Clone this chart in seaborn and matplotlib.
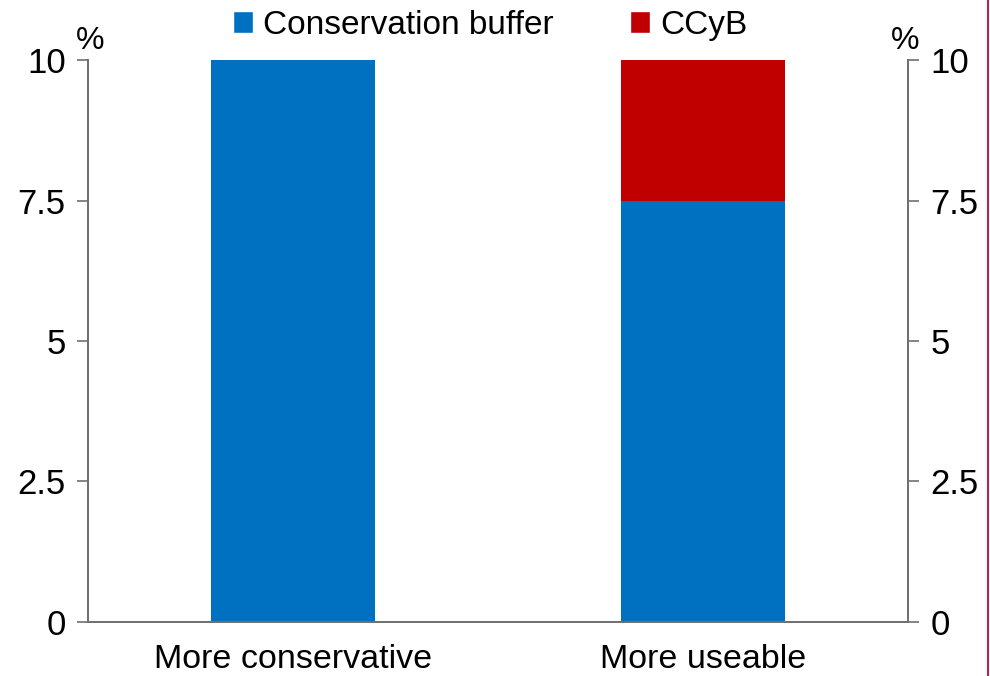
import matplotlib
matplotlib.use("Agg")
import matplotlib.pyplot as plt
import seaborn as sns
from matplotlib.lines import Line2D
from matplotlib.patches import Patch

# ---------------------------------------------
# Data
# ---------------------------------------------
categories = ["More conservative", "More useable"]
conservation_buffer = [10.0, 7.5]
ccyb = [0.0, 2.5]
yticks = [0, 2.5, 5, 7.5, 10]
ytick_labels = ["0", "2.5", "5", "7.5", "10"]

blue = "#0070C0"
red = "#C00000"
axis_col = "#707070"

sns.set_style("white")
plt.rcParams["font.family"] = ["Liberation Sans", "DejaVu Sans"]
plt.rcParams["text.color"] = "black"
plt.rcParams["xtick.labelcolor"] = "black"
plt.rcParams["ytick.labelcolor"] = "black"

fig = plt.figure(figsize=(9.9, 6.76), dpi=100)
ax = fig.add_axes([0.0889, 0.0799, 0.8283, 0.8313])

# stacked bars: draw the total in red, then the conservation buffer on top
totals = [a + b for a, b in zip(conservation_buffer, ccyb)]
sns.barplot(x=categories, y=totals, color=red, width=0.4, saturation=1, linewidth=0, ax=ax)
sns.barplot(x=categories, y=conservation_buffer, color=blue, width=0.4, saturation=1, linewidth=0, ax=ax)

ax.set_ylim(0, 10)
ax.set_xlim(-0.5, 1.5)
ax.set_yticks(yticks)
ax.set_yticklabels(ytick_labels)
ax.set_xticks([0, 1])
ax.set_xticklabels(categories)
ax.set_xticks([-0.5, 0.5, 1.5], minor=True)
ax.tick_params(axis="x", which="major", length=0, pad=16, labelsize=24.5)
ax.tick_params(axis="x", which="minor", length=8, width=1.2, color=axis_col, direction="out")
ax.tick_params(axis="y", length=8, width=1.2, color=axis_col, direction="out", labelsize=25, pad=8)
ax.set_xlabel("")
ax.set_ylabel("")

ax2 = ax.twinx()
ax2.set_ylim(0, 10)
ax2.set_yticks(yticks)
ax2.set_yticklabels(ytick_labels)
ax2.tick_params(axis="y", length=8, width=1.2, color=axis_col, direction="out", labelsize=25, pad=8)

for a in (ax, ax2):
    a.spines["top"].set_visible(False)
    for side in ["left", "right", "bottom"]:
        a.spines[side].set_color(axis_col)
        a.spines[side].set_linewidth(1.3)

ax.text(0.003, 1.008, "%", transform=ax.transAxes, fontsize=23, ha="center", va="bottom")
ax.text(0.997, 1.008, "%", transform=ax.transAxes, fontsize=23, ha="center", va="bottom")

handles = [Patch(facecolor=blue, label="Conservation buffer"),
           Patch(facecolor=red, label="CCyB")]
fig.legend(handles=handles, loc="upper center", bbox_to_anchor=(0.495, 1.03), ncol=2,
           frameon=False, fontsize=24, handlelength=0.6, handleheight=0.6,
           handletextpad=0.3, columnspacing=2.3)

fig.add_artist(Line2D([0.998, 0.998], [0, 1], color="#C0204A", lw=1.5))

fig.savefig("out.png", dpi=100)
